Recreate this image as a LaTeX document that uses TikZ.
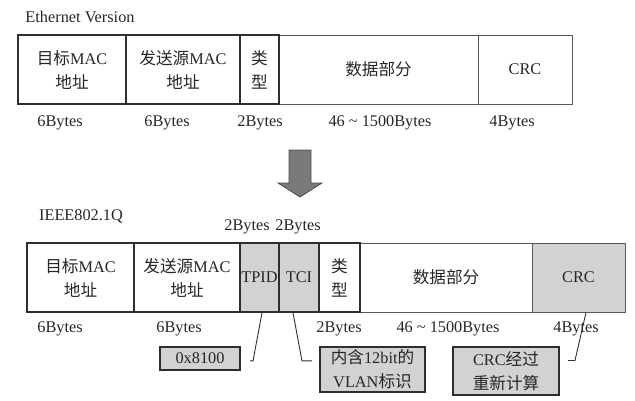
\documentclass[tikz,border=0pt]{standalone}
\usepackage{fontspec}
\setmainfont{Liberation Serif}
\newfontfamily\cjk[Scale=1.02]{Noto Sans CJK SC}
\newcommand{\zh}[1]{{\cjk #1}}
\usetikzlibrary{positioning}
\definecolor{FrameGray}{HTML}{2E2E2E}
\definecolor{TagGray}{HTML}{D2D2D2}
\definecolor{ArrowGray}{HTML}{7A7A7A}

\begin{document}
\begin{tikzpicture}[x=1pt, y=-1pt,
    every node/.style={font=\fontsize{16.3pt}{24pt}\selectfont, text=black!85},
    cell/.style={rectangle, draw=FrameGray, line width=1.7pt, minimum height=69pt, inner sep=0pt, align=center},
    softcell/.style={cell, draw=black!65, line width=1pt},
    tagcell/.style={cell, fill=TagGray},
    note/.style={rectangle, draw=FrameGray, line width=1.1pt, fill=TagGray, inner sep=0pt, align=center},
    size/.style={inner sep=0pt},
    callout/.style={draw=FrameGray, line width=0.9pt}
  ]
    \useasboundingbox (0,0) rectangle (635,400);

    % Ethernet frame
    \node[size] (eth) at (80,17) {Ethernet Version};
    \node[softcell, minimum width=199pt] (data1) at (378.5,69.5) {\zh{数据部分}};
    \node[softcell, minimum width=94pt] (crc1) at (525,69.5) {CRC};
    \node[cell, minimum width=108pt] (dst1) at (72,69.5) {\zh{目标}MAC\\\zh{地址}};
    \node[cell, minimum width=114pt] (src1) at (183,69.5) {\zh{发送源}MAC\\\zh{地址}};
    \node[cell, minimum width=39pt] (type1) at (259.5,69.5) {\zh{类}\\\zh{型}};

    \node[size] (b1a) at (60,123) {6Bytes};
    \node[size] (b1b) at (167,123) {6Bytes};
    \node[size] (b1c) at (260,123) {2Bytes};
    \node[size] (b1d) at (380,123) {46 \textasciitilde{} 1500Bytes};
    \node[size] (b1e) at (512,123) {4Bytes};

    % conversion arrow
    \draw[fill=ArrowGray, draw=black!70, line width=0.8pt]
      (289,150) -- (311,150) -- (311,183) -- (322,183) -- (300,197)
      -- (278,183) -- (289,183) -- cycle;

    % 802.1Q frame
    \node[size] (dot1q) at (81,216) {IEEE802.1Q};
    \node[size] (tpidsize) at (247,227) {2Bytes};
    \node[size] (tcisize) at (298,227) {2Bytes};

    \node[softcell, minimum width=172pt] (data2) at (446,277.5) {\zh{数据部分}};
    \node[softcell, fill=TagGray, minimum width=93pt] (crc2) at (578.5,277.5) {CRC};
    \node[cell, minimum width=107pt] (dst2) at (80.5,277.5) {\zh{目标}MAC\\\zh{地址}};
    \node[cell, minimum width=106pt] (src2) at (187,277.5) {\zh{发送源}MAC\\\zh{地址}};
    \node[tagcell, minimum width=39pt] (tpid) at (259.5,277.5) {TPID};
    \node[tagcell, minimum width=40pt] (tci) at (299,277.5) {TCI};
    \node[cell, minimum width=41pt] (type2) at (339.5,277.5) {\zh{类}\\\zh{型}};

    \node[size] (b2a) at (60,329) {6Bytes};
    \node[size] (b2b) at (179,329) {6Bytes};
    \node[size] (b2c) at (339,329) {2Bytes};
    \node[size] (b2d) at (448,329) {46 \textasciitilde{} 1500Bytes};
    \node[size] (b2e) at (576,329) {4Bytes};

    % notes
    \node[note, minimum width=80pt, minimum height=23pt] (hexnote) at (200,358.5) {0x8100};
    \node[note, minimum width=105pt, minimum height=45pt] (vlannote) at (372.5,369.5) {\zh{内含}12bit\zh{的}\\VLAN\zh{标识}};
    \node[note, minimum width=106pt, minimum height=48pt] (crcnote) at (506,371) {CRC\zh{经过}\\\zh{重新计算}};

    \draw[callout] ([xshift=2.5pt]tpid.south) -- ++(-9,48) -- ++(-3,0);
    \draw[callout] ([xshift=-6pt]tci.south) -- ++(9,48) -- ++(10,0);
    \draw[callout] ([xshift=7.5pt]crc2.south) -- ++(-11,48) -- ++(-7,0);
  \end{tikzpicture}
\end{document}
